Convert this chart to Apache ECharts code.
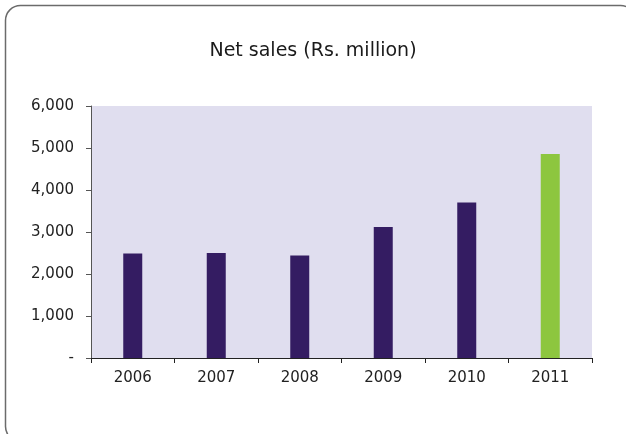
<!DOCTYPE html>
<html>
<head>
<meta charset="utf-8">
<script src="https://cdn.jsdelivr.net/npm/echarts@6/dist/echarts.min.js"></script>
<style>
  html, body { margin: 0; padding: 0; background: #ffffff; }
  #chart { width: 626px; height: 434px; }
</style>
</head>
<body>
<div id="chart"></div>
<script>
// Net sales by year, Rs. million
const years = ['2006', '2007', '2008', '2009', '2010', '2011'];
const netSales = [2490, 2500, 2440, 3120, 3700, 4860];
const yTicks = [0, 1000, 2000, 3000, 4000, 5000, 6000];

const barColor = '#341c62';
const highlightColor = '#8dc63f';
const fontFamily = '"DejaVu Sans", sans-serif';

const chart = echarts.init(document.getElementById('chart'), null, { renderer: 'canvas' });

chart.setOption({
  animation: false,
  backgroundColor: '#ffffff',
  title: {
    text: 'Net sales (Rs. million)',
    left: 'center',
    top: 37,
    textStyle: { fontFamily, fontSize: 19, fontWeight: 'normal', color: '#1a1a1a' }
  },
  graphic: [{
    type: 'rect',
    shape: { x: 5.5, y: 5.5, width: 630, height: 436, r: 15 },
    style: { fill: 'none', stroke: '#6b6b6b', lineWidth: 1.5 },
    silent: true
  }],
  grid: {
    left: 91, right: 34, top: 106, bottom: 76,
    show: true, backgroundColor: '#e0deef', borderWidth: 0
  },
  xAxis: {
    type: 'category',
    data: years,
    boundaryGap: true,
    axisLine: { lineStyle: { color: '#222222', width: 1 } },
    axisTick: { show: true, alignWithLabel: false, length: 5, lineStyle: { color: '#222222' } },
    axisLabel: { fontFamily, fontSize: 15, color: '#222222', margin: 13 }
  },
  yAxis: {
    type: 'value',
    min: yTicks[0],
    max: yTicks[yTicks.length - 1],
    interval: 1000,
    axisLine: { show: true, lineStyle: { color: '#555555', width: 1 } },
    axisTick: { show: true, length: 5, lineStyle: { color: '#555555' } },
    splitLine: { show: false },
    axisLabel: {
      fontFamily, fontSize: 15, color: '#222222', margin: 17,
      formatter: v => v === 0 ? '-' : v.toLocaleString('en-US')
    }
  },
  series: [{
    type: 'bar',
    barWidth: 19,
    data: netSales.map((v, i) => ({
      value: v,
      itemStyle: { color: i === netSales.length - 1 ? highlightColor : barColor }
    }))
  }]
});
</script>
</body>
</html>
